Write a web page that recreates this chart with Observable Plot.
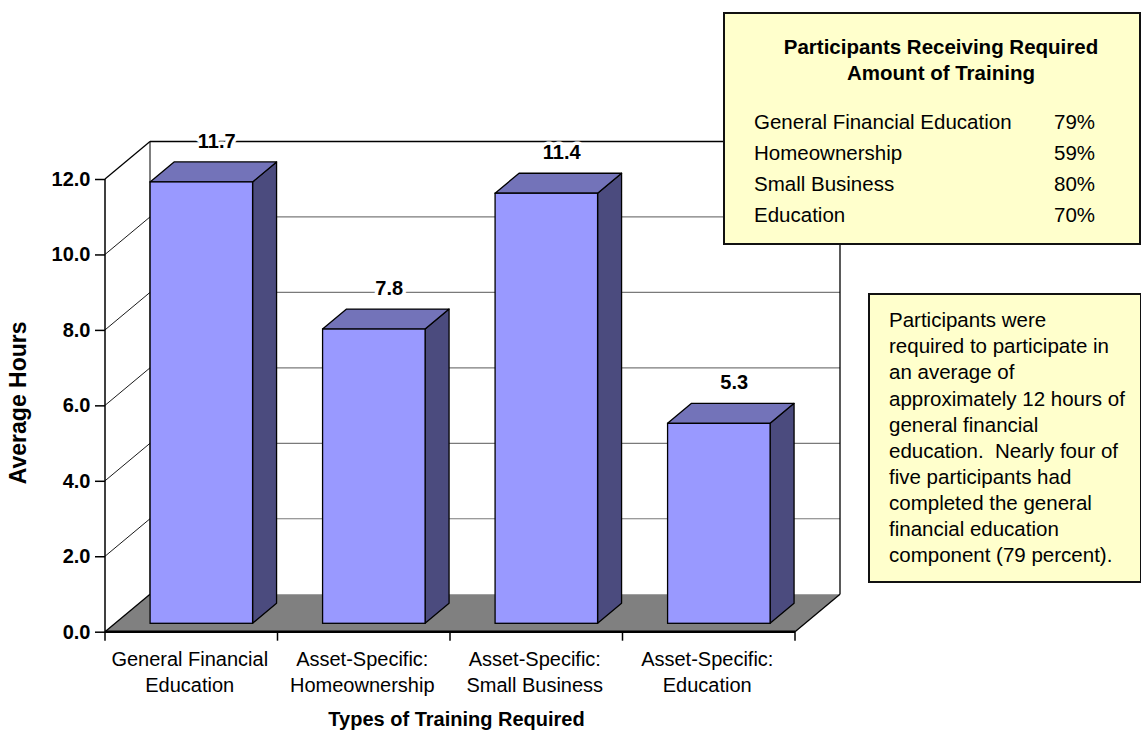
<!DOCTYPE html>
<html>
<head>
<meta charset="utf-8">
<script src="https://cdn.jsdelivr.net/npm/d3@7"></script>
<script src="https://cdn.jsdelivr.net/npm/@observablehq/plot@0.6"></script>
<style>
  body { margin: 0; background: #fff; font-family: "Liberation Sans", Arial, sans-serif; }
  #wrap { position: relative; width: 1141px; height: 731px; overflow: hidden; background: #fff; }
  #wrap svg { position: absolute; left: 0; top: 0; }
  .box { position: absolute; background: #FFFFCC; border: 2px solid #111; box-sizing: border-box; }
  .t { position: absolute; white-space: pre; color: #000; font-size: 20.5px; }
</style>
</head>
<body>
<div id="wrap"></div>
<script>
// ---------- data ----------
const categories = ["General Financial\nEducation", "Asset-Specific:\nHomeownership", "Asset-Specific:\nSmall Business", "Asset-Specific:\nEducation"];
const avgHours = [11.7, 7.8, 11.4, 5.3];
const yTicks = [0, 2, 4, 6, 8, 10, 12];
const yLabel = "Average Hours";
const xLabel = "Types of Training Required";
const summaryTitle = ["Participants Receiving Required", "Amount of Training"];
const trainingTypes = ["General Financial Education", "Homeownership", "Small Business", "Education"];
const pctReceiving = [79, 59, 80, 70];
const noteLines = [
  "Participants were",
  "required to participate in",
  "an average of",
  "approximately 12 hours of",
  "general financial",
  "education.  Nearly four of",
  "five participants had",
  "completed the general",
  "financial education",
  "component (79 percent)."
];

const bars = categories.map((c, i) => ({i, category: c, hours: avgHours[i]}));

// ---------- 3D look (pixel styling) ----------
const WALL_DX = 45, WALL_DY = -37.5;   // depth of the chart box
const FRONT = 0.224, BACK = 0.757;     // bar depth fraction
const INSET = 35;                       // bar inset within a category band
const cFront = "#9999FF", cTop = "#7373B9", cSide = "#4B4B7E", cFloor = "#808080";

const pts = arr => arr.map(p => p.join(",")).join(" ");

function frameMark(index, scales) {
  const n = categories.length;
  const P = (x, y, d) => [scales.x(x) + WALL_DX * d, scales.y(y) + WALL_DY * d];
  const g = d3.create("svg:g");
  const line = (a, b, stroke, w) => g.append("line")
    .attr("x1", a[0]).attr("y1", a[1]).attr("x2", b[0]).attr("y2", b[1])
    .attr("stroke", stroke).attr("stroke-width", w);
  // floor
  g.append("polygon").attr("points", pts([P(0,0,0), P(n,0,0), P(n,0,1), P(0,0,1)])).attr("fill", cFloor);
  // back wall gridlines
  for (const v of yTicks) if (v > 0 && v < 12) line(P(0,v,1), P(n,v,1), "#7a7a7a", 1.2);
  line(P(0,12,1), P(n,12,1), "#000", 1.3);
  // back wall edges
  line(P(0,0,1), P(0,12,1), "#000", 1);
  line(P(n,0,1), P(n,12,1), "#000", 1.3);
  // side wall diagonals
  for (const v of yTicks) line(P(0,v,0), P(0,v,1), "#000", v === 0 || v === 12 ? 1.3 : 0.9);
  // floor right edge
  line(P(n,0,0), P(n,0,1), "#000", 1.3);
  return g.node();
}

function barFacesMark(index, scales) {
  const g = d3.create("svg:g");
  const pt = (x, y, d) => [x + WALL_DX * d, y + WALL_DY * d];
  for (const b of bars) {
    const xl = scales.x(b.i) + INSET, xr = scales.x(b.i + 1) - INSET;
    const y0 = scales.y(0), yv = scales.y(b.hours);
    g.append("polygon")
      .attr("points", pts([pt(xr,y0,FRONT), pt(xr,yv,FRONT), pt(xr,yv,BACK), pt(xr,y0,BACK)]))
      .attr("fill", cSide).attr("stroke", "#000").attr("stroke-width", 1.3).attr("stroke-linejoin", "round");
    g.append("polygon")
      .attr("points", pts([pt(xl,yv,FRONT), pt(xr,yv,FRONT), pt(xr,yv,BACK), pt(xl,yv,BACK)]))
      .attr("fill", cTop).attr("stroke", "#000").attr("stroke-width", 1.3).attr("stroke-linejoin", "round");
  }
  return g.node();
}

function axesLinesMark(index, scales) {
  const n = categories.length;
  const g = d3.create("svg:g");
  const y0 = scales.y(0);
  g.append("line").attr("x1", scales.x(0)).attr("x2", scales.x(0)).attr("y1", scales.y(12)).attr("y2", y0 + 9)
    .attr("stroke", "#000").attr("stroke-width", 1.5);
  g.append("line").attr("x1", scales.x(0)).attr("x2", scales.x(n)).attr("y1", y0).attr("y2", y0)
    .attr("stroke", "#000").attr("stroke-width", 2.5);
  for (let i = 1; i <= n; i++) {
    g.append("line").attr("x1", scales.x(i)).attr("x2", scales.x(i)).attr("y1", y0).attr("y2", y0 + 9)
      .attr("stroke", "#000").attr("stroke-width", 1.5);
  }
  return g.node();
}

const chart = Plot.plot({
  width: 1141,
  height: 731,
  marginTop: 179,
  marginBottom: 99.3,
  marginLeft: 105,
  marginRight: 346,
  style: {fontFamily: "'Liberation Sans', Arial, sans-serif", fontSize: "20px", color: "#000", background: "transparent", overflow: "visible"},
  x: {domain: [0, categories.length], axis: null},
  y: {domain: [0, 12], axis: null},
  marks: [
    frameMark,
    barFacesMark,
    Plot.rect(bars, {
      x1: "i", x2: d => d.i + 1, y1: 0, y2: "hours",
      insetLeft: INSET, insetRight: INSET,
      dx: WALL_DX * FRONT, dy: WALL_DY * FRONT,
      fill: cFront, stroke: "#000", strokeWidth: 1.3
    }),
    Plot.text(bars, {
      x: d => d.i + 0.5, y: "hours", text: d => d.hours.toFixed(1),
      dx: 25, dy: WALL_DY * BACK - 14.5, lineAnchor: "bottom",
      fontWeight: "bold", fontSize: 20, fill: "#000", stroke: "white", strokeWidth: 7
    }),
    axesLinesMark,
    Plot.axisY(yTicks, {
      tickSize: 10, tickPadding: 5, tickFormat: d => d.toFixed(1),
      fontWeight: "bold", fontSize: 20, label: null, stroke: "#000", strokeWidth: 1.5
    }),
    Plot.text(bars, {
      x: d => d.i + 0.5, y: 0, text: "category", lineAnchor: "top",
      dx: -2, dy: 15, fontSize: 20, lineHeight: 1.3
    }),
    Plot.text([yLabel], {
      text: d => d, frameAnchor: "left", textAnchor: "middle", lineAnchor: "middle",
      rotate: -90, dx: -86.5, dy: -3,
      fontWeight: "bold", fontSize: 23
    }),
    Plot.text([xLabel], {
      text: d => d, frameAnchor: "bottom", textAnchor: "middle", lineAnchor: "bottom", dx: 6, dy: 94,
      fontWeight: "bold", fontSize: 20
    })
  ]
});

const wrap = document.getElementById("wrap");
wrap.appendChild(chart);

// ---------- annotation boxes ----------
function addDiv(cls, css, text) {
  const d = document.createElement("div");
  d.className = cls;
  Object.assign(d.style, css);
  if (text != null) d.textContent = text;
  wrap.appendChild(d);
  return d;
}
addDiv("box", {left: "723px", top: "12px", width: "418px", height: "233px"});
addDiv("t", {left: "741px", width: "400px", top: "34.4px", lineHeight: "26px", textAlign: "center", fontWeight: "bold"},
  summaryTitle.join("\n"));
trainingTypes.forEach((name, i) => {
  const top = (106 + 31.1 * i) + "px";
  addDiv("t", {left: "754px", top, lineHeight: "31.1px"}, name);
  addDiv("t", {left: "1054px", top, lineHeight: "31.1px"}, pctReceiving[i] + "%");
});

addDiv("box", {left: "868px", top: "293px", width: "274px", height: "290px"});
addDiv("t", {left: "889px", top: "307.4px", lineHeight: "26.04px"}, noteLines.join("\n"));
</script>
</body>
</html>
